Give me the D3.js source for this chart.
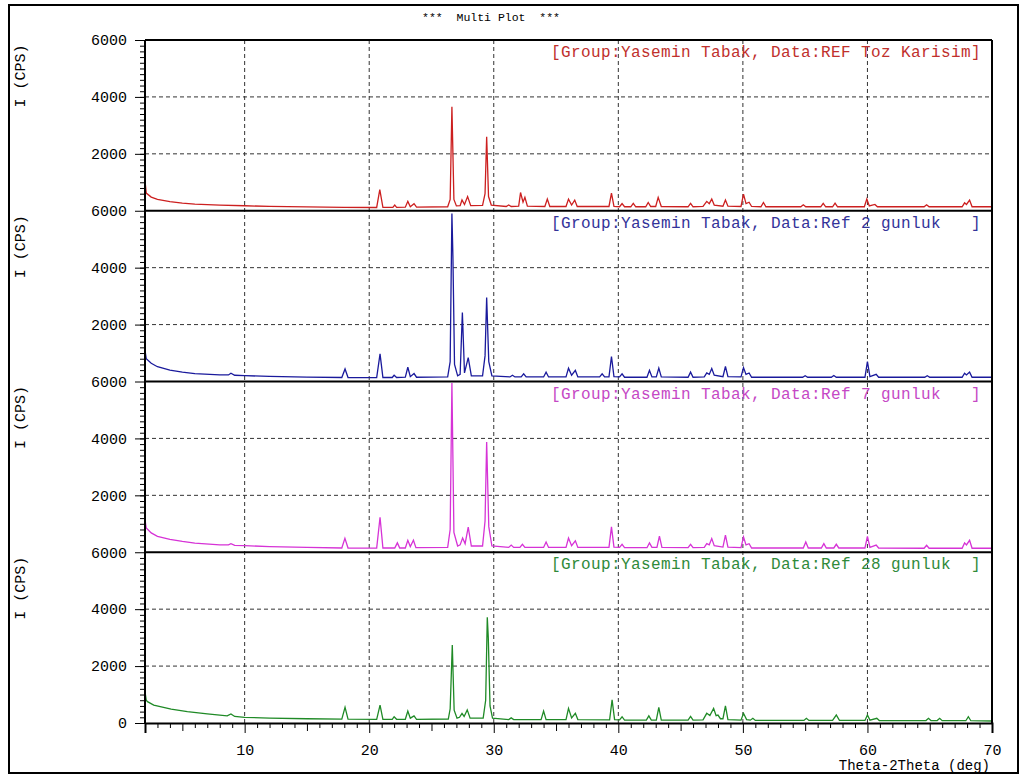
<!DOCTYPE html>
<html>
<head>
<meta charset="utf-8">
<script src="https://cdn.jsdelivr.net/npm/d3@7/dist/d3.min.js"></script>
<style>
  body { margin: 0; background: #fff; }
  text { font-family: "Liberation Mono", "Courier New", monospace; white-space: pre; }
</style>
</head>
<body>
<div id="chart"></div>
<script>
// XRD scans, [2theta (deg), intensity (CPS)]
const refTozKarisim = [
  [2.0, 1050], [2.1, 620], [2.5, 480], [3, 400], [4, 320], [5, 270], [6, 235], [8, 200], [10, 175],
  [12, 155], [15, 135], [18, 120], [20.6, 115], [20.85, 740], [21.1, 120], [21.9, 120], [22.05, 200],
  [22.2, 120], [22.9, 125], [23.1, 330], [23.3, 140], [23.6, 250], [23.8, 130], [26.3, 140], [26.5, 400],
  [26.64, 3650], [26.8, 400], [27.0, 170], [27.3, 180], [27.45, 380], [27.65, 220], [27.9, 500], [28.15, 180],
  [29.1, 190], [29.3, 600], [29.43, 2600], [29.58, 500], [29.8, 200], [31.0, 150], [31.2, 200], [31.4, 150],
  [32.0, 160], [32.15, 640], [32.35, 300], [32.5, 470], [32.7, 160], [34.1, 150], [34.3, 410], [34.5, 150],
  [35.8, 150], [36.0, 410], [36.25, 200], [36.5, 375], [36.7, 150], [39.25, 150], [39.45, 620], [39.65, 150],
  [40.1, 140], [40.3, 250], [40.5, 140], [41.0, 140], [41.2, 260], [41.4, 140], [42.2, 140], [42.4, 290],
  [42.6, 150], [43.0, 150], [43.2, 470], [43.45, 150], [45.6, 140], [45.8, 260], [46.0, 140], [46.8, 150],
  [47.1, 330], [47.3, 250], [47.5, 410], [47.7, 200], [48.4, 160], [48.6, 375], [48.8, 160], [49.85, 150],
  [50.05, 585], [50.25, 250], [50.5, 300], [50.7, 150], [51.45, 140], [51.65, 290], [51.85, 140], [54.65, 140],
  [54.85, 210], [55.05, 140], [56.25, 140], [56.45, 260], [56.65, 140], [57.2, 140], [57.4, 270], [57.6, 140],
  [59.75, 140], [59.95, 410], [60.15, 170], [60.6, 220], [60.8, 140], [64.55, 140], [64.75, 210], [64.95, 140],
  [67.6, 140], [67.8, 280], [67.95, 220], [68.2, 375], [68.4, 140], [70, 140]
]

const ref2Gunluk = [
  [2.0, 1100], [2.1, 800], [2.5, 640], [3, 520], [4, 400], [5, 330], [6, 280], [8, 230], [8.7, 230],
  [8.9, 290], [9.2, 220], [10, 205], [12, 180], [15, 155], [17.8, 140], [18.06, 440], [18.3, 140], [20.6, 135],
  [20.87, 970], [21.1, 140], [21.85, 140], [22.0, 220], [22.2, 140], [22.9, 150], [23.1, 500], [23.3, 170],
  [23.6, 280], [23.8, 150], [26.3, 160], [26.5, 700], [26.64, 5900], [26.72, 4400], [26.85, 600], [27.1, 200],
  [27.3, 250], [27.48, 2420], [27.65, 300], [27.95, 840], [28.2, 200], [29.1, 200], [29.3, 900], [29.43, 2950],
  [29.6, 700], [29.85, 200], [31.3, 160], [31.5, 220], [31.7, 160], [32.2, 160], [32.4, 270], [32.6, 160],
  [34.0, 160], [34.2, 330], [34.4, 160], [35.8, 160], [36.0, 470], [36.25, 220], [36.55, 390], [36.75, 160],
  [38.5, 160], [38.7, 270], [38.9, 160], [39.25, 160], [39.45, 880], [39.65, 170], [40.1, 160], [40.3, 270],
  [40.5, 150], [42.3, 150], [42.5, 390], [42.7, 160], [43.05, 160], [43.25, 470], [43.45, 160], [45.6, 150],
  [45.8, 330], [46.0, 150], [46.9, 160], [47.1, 300], [47.3, 250], [47.5, 457], [47.7, 220], [48.4, 170],
  [48.6, 527], [48.8, 170], [49.85, 160], [50.05, 490], [50.25, 250], [50.5, 300], [50.7, 150], [54.8, 150],
  [55.0, 200], [55.2, 150], [57.1, 150], [57.3, 210], [57.5, 150], [59.8, 150], [60.0, 700], [60.2, 170],
  [60.7, 250], [60.9, 150], [64.6, 150], [64.8, 200], [65.0, 150], [67.6, 150], [67.8, 290], [67.95, 230],
  [68.2, 330], [68.4, 150], [70, 150]
]

const ref7Gunluk = [
  [2.0, 1150], [2.1, 850], [2.5, 680], [3, 560], [4, 450], [5, 380], [6, 320], [8, 260], [8.7, 260],
  [8.9, 300], [9.2, 240], [10, 230], [12, 200], [15, 170], [17.8, 150], [18.05, 490], [18.3, 150], [20.6, 145],
  [20.87, 1230], [21.1, 150], [22.05, 150], [22.26, 330], [22.45, 150], [22.9, 150], [23.1, 420], [23.3, 200],
  [23.55, 420], [23.75, 160], [26.3, 170], [26.5, 800], [26.64, 5950], [26.8, 700], [27.1, 220], [27.3, 260],
  [27.5, 500], [27.7, 300], [27.95, 880], [28.2, 220], [29.1, 220], [29.3, 1100], [29.43, 3870], [29.6, 900],
  [29.85, 220], [31.2, 170], [31.4, 250], [31.6, 170], [32.1, 170], [32.3, 280], [32.5, 170], [34.0, 170],
  [34.2, 360], [34.4, 170], [35.8, 170], [36.0, 500], [36.25, 230], [36.55, 400], [36.75, 170], [39.25, 170],
  [39.45, 890], [39.65, 180], [40.1, 170], [40.3, 280], [40.5, 160], [42.3, 160], [42.5, 330], [42.7, 170],
  [43.1, 170], [43.3, 570], [43.5, 170], [45.6, 160], [45.8, 280], [46.0, 160], [46.9, 170], [47.1, 305],
  [47.3, 260], [47.5, 480], [47.7, 230], [48.4, 180], [48.6, 600], [48.8, 180], [49.85, 160], [50.05, 540],
  [50.25, 260], [50.5, 300], [50.7, 150], [54.85, 150], [55.05, 360], [55.25, 150], [56.3, 150], [56.5, 305],
  [56.7, 150], [57.3, 150], [57.5, 280], [57.7, 150], [59.8, 150], [60.0, 560], [60.2, 170], [60.7, 250],
  [60.9, 150], [64.55, 140], [64.75, 245], [64.95, 140], [67.6, 140], [67.8, 330], [67.95, 260], [68.2, 420],
  [68.4, 140], [70, 140]
]

const ref28Gunluk = [
  [2.0, 1100], [2.1, 800], [2.2, 750], [2.7, 630], [4.1, 490], [5.4, 400], [7, 320], [8.6, 250], [8.9, 320],
  [9.2, 230], [10, 200], [12, 170], [15, 150], [17.8, 135], [18.06, 550], [18.3, 135], [20.6, 130], [20.87, 630],
  [21.1, 130], [21.85, 130], [22.0, 220], [22.2, 130], [22.9, 130], [23.1, 420], [23.3, 170], [23.6, 250],
  [23.8, 130], [26.35, 140], [26.5, 500], [26.67, 2740], [26.82, 450], [27.05, 170], [27.25, 200], [27.45, 340],
  [27.62, 230], [27.87, 460], [28.1, 170], [29.15, 170], [29.35, 800], [29.48, 3715], [29.56, 3000], [29.7, 600],
  [29.9, 170], [31.2, 120], [31.4, 180], [31.6, 120], [33.8, 120], [34.0, 420], [34.2, 120], [35.8, 120],
  [36.0, 515], [36.25, 180], [36.55, 340], [36.75, 120], [39.3, 110], [39.5, 810], [39.7, 120], [40.1, 110],
  [40.3, 220], [40.5, 100], [42.25, 100], [42.45, 250], [42.65, 100], [43.05, 100], [43.25, 550], [43.45, 100],
  [45.6, 100], [45.8, 230], [46.0, 100], [46.8, 110], [47.1, 340], [47.35, 260], [47.65, 515], [47.85, 260],
  [48.0, 280], [48.2, 150], [48.4, 150], [48.6, 600], [48.8, 120], [49.85, 100], [50.05, 340], [50.3, 120],
  [50.6, 100], [50.8, 165], [51.0, 90], [54.9, 90], [55.1, 165], [55.3, 90], [57.2, 90], [57.5, 280],
  [57.75, 90], [59.8, 90], [60.0, 280], [60.2, 100], [60.75, 165], [60.95, 85], [64.7, 85], [64.9, 165],
  [65.1, 85], [65.6, 85], [65.8, 165], [66.0, 80], [67.9, 80], [68.1, 220], [68.3, 80], [70, 70]
]

const scans = [refTozKarisim, ref2Gunluk, ref7Gunluk, ref28Gunluk]
const scanLabels = [
  "[Group:Yasemin Tabak, Data:REF Toz Karisim]",
  "[Group:Yasemin Tabak, Data:Ref 2 gunluk   ]",
  "[Group:Yasemin Tabak, Data:Ref 7 gunluk   ]",
  "[Group:Yasemin Tabak, Data:Ref 28 gunluk  ]"
]
const scanColors = ["#cc1f1f", "#1a1a9c", "#d633d6", "#1f8a26"]
const labelColors = ["#c0302c", "#333399", "#c548c5", "#2f8a3a"]

const xTicks = [10, 20, 30, 40, 50, 60, 70]
const yTicks = [0, 2000, 4000, 6000]

const MARGIN = { LEFT: 145, RIGHT: 31, TOP: 40, BOTTOM: 53 }
const WIDTH = 1023 - MARGIN.LEFT - MARGIN.RIGHT
const HEIGHT = 776 - MARGIN.TOP - MARGIN.BOTTOM
const PANEL_H = HEIGHT / scans.length

const svg = d3.select("#chart").append("svg")
  .attr("width", 1023)
  .attr("height", 776)

// outer frame
svg.append("rect")
  .attr("x", 9).attr("y", 5)
  .attr("width", 1009).attr("height", 768)
  .attr("fill", "none")
  .attr("stroke", "#000")
  .attr("stroke-width", 2)

svg.append("text")
  .attr("x", 491).attr("y", 21)
  .attr("text-anchor", "middle")
  .attr("font-size", "11.5px")
  .text("***  Multi Plot  ***")

const g = svg.append("g")
  .attr("transform", `translate(${MARGIN.LEFT}, ${MARGIN.TOP})`)

const x = d3.scaleLinear().domain([2, 70]).range([0, WIDTH])

// vertical grid runs through all panels
g.append("g").selectAll("line")
  .data(xTicks.filter(d => d < 70))
  .enter().append("line")
    .attr("x1", d => x(d)).attr("x2", d => x(d))
    .attr("y1", 0).attr("y2", HEIGHT)
    .attr("stroke", "#333")
    .attr("stroke-dasharray", "4,3")

const line = d3.line()

scans.forEach((scan, i) => {
  const top = i * PANEL_H
  const y = d3.scaleLinear().domain([0, 6000]).range([top + PANEL_H, top])

  // horizontal grid
  g.append("g").selectAll("line")
    .data([2000, 4000])
    .enter().append("line")
      .attr("x1", 0).attr("x2", WIDTH)
      .attr("y1", d => y(d)).attr("y2", d => y(d))
      .attr("stroke", "#333")
      .attr("stroke-dasharray", "4,3")

  // minor y ticks
  g.append("g")
    .call(d3.axisLeft(y).tickValues(d3.range(200, 6000, 200)).tickSize(5).tickFormat(""))
    .call(a => a.select(".domain").remove())

  const yAxis = d3.axisLeft(y)
    .tickValues(i === scans.length - 1 ? yTicks : yTicks.slice(1))
    .tickSize(10)
    .tickPadding(8)
    .tickFormat(d3.format("d"))
  g.append("g")
    .call(yAxis)
    .call(a => a.select(".domain").remove())
    .call(a => a.selectAll("text").attr("font-size", "15px").attr("font-family", "Liberation Mono"))

  g.append("text")
    .attr("transform", `translate(${20 - MARGIN.LEFT}, ${top + 36}) rotate(-90)`)
    .attr("text-anchor", "middle")
    .attr("dy", "0.35em")
    .attr("font-size", "15px")
    .text("I (CPS)")

  g.append("path")
    .datum(scan)
    .attr("fill", "none")
    .attr("stroke", scanColors[i])
    .attr("stroke-width", 1.3)
    .attr("d", line.x(d => x(d[0])).y(d => y(d[1])))

  g.append("text")
    .attr("x", 551 - MARGIN.LEFT)
    .attr("y", top + 17)
    .attr("fill", labelColors[i])
    .attr("font-size", "16px")
    .attr("letter-spacing", "0.4px")
    .text(scanLabels[i])

  // panel separator / top frame
  g.append("line")
    .attr("x1", 0).attr("x2", WIDTH)
    .attr("y1", top).attr("y2", top)
    .attr("stroke", "#000").attr("stroke-width", 2)
})

// x ticks: every degree, longer every 5
g.append("g")
  .attr("transform", `translate(0, ${HEIGHT})`)
  .call(d3.axisBottom(x).tickValues(d3.range(3, 70, 1).filter(d => d % 5)).tickSize(5).tickFormat(""))
g.append("g")
  .attr("transform", `translate(0, ${HEIGHT})`)
  .call(d3.axisBottom(x).tickValues([5, 15, 25, 35, 45, 55, 65]).tickSize(8).tickFormat(""))
g.append("g")
  .attr("transform", `translate(0, ${HEIGHT})`)
  .call(d3.axisBottom(x).tickValues(xTicks).tickSize(10).tickPadding(11))
  .call(a => a.select(".domain").attr("stroke-width", 2))
  .call(a => a.selectAll("text").attr("font-size", "15px").attr("font-family", "Liberation Mono"))

g.append("text")
  .attr("x", WIDTH - 2)
  .attr("y", HEIGHT + 47)
  .attr("text-anchor", "end")
  .attr("font-size", "14px")
  .text("Theta-2Theta (deg)")

// left axis and right border
g.append("line")
  .attr("x1", 0).attr("x2", 0).attr("y1", 0).attr("y2", HEIGHT)
  .attr("stroke", "#000").attr("stroke-width", 2)
g.append("line")
  .attr("x1", WIDTH).attr("x2", WIDTH).attr("y1", 0).attr("y2", HEIGHT)
  .attr("stroke", "#000").attr("stroke-width", 2)
</script>
</body>
</html>
